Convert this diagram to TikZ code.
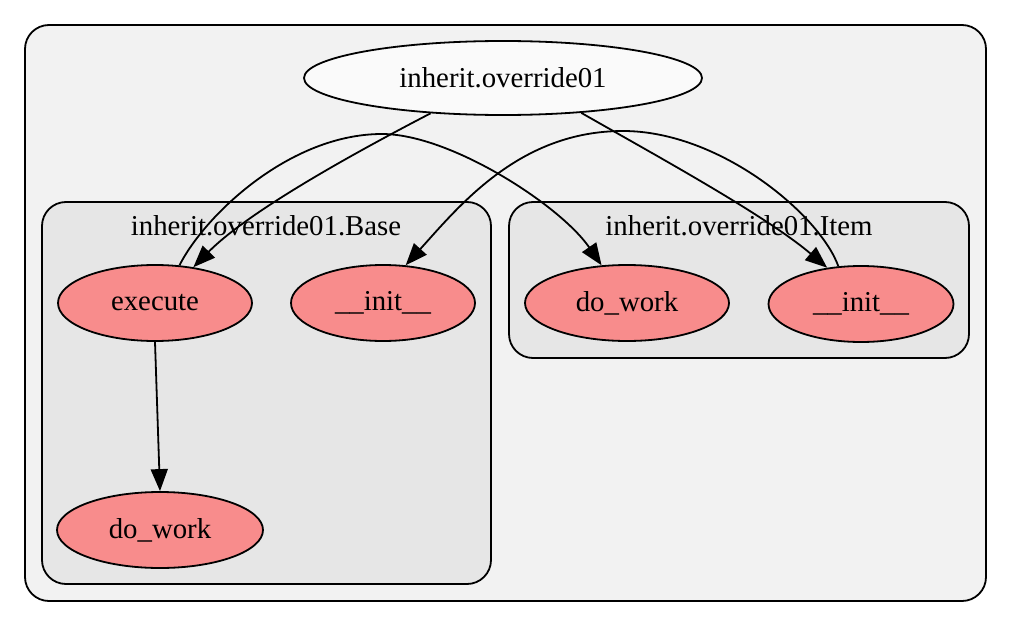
\documentclass[tikz,border=0pt]{standalone}
\usepackage{fontspec}
\setmainfont{Liberation Serif}
\usetikzlibrary{arrows.meta,shapes.geometric}
\definecolor{outerfill}{HTML}{F2F2F2}
\definecolor{clusterfill}{HTML}{E6E6E6}
\definecolor{topfill}{HTML}{FAFAFA}
\definecolor{funcfill}{HTML}{F88C8C}
\begin{document}
\begin{tikzpicture}[x=0.5pt,y=-0.5pt,
  font=\fontsize{14.4pt}{16pt}\selectfont,
  clusterbox/.style={draw=black, line width=0.9pt, rounded corners=12pt},
  topnode/.style={ellipse, draw=black, line width=0.9pt, fill=topfill, inner sep=0pt},
  funcnode/.style={ellipse, draw=black, line width=0.9pt, fill=funcfill, inner sep=0pt, minimum height=38pt},
  edge/.style={draw=black, line width=0.9pt, -{Triangle[length=11pt,width=8.5pt]}}
]
\useasboundingbox (0,0) rectangle (1011,626);
\fill[white] (0,0) rectangle (1011,626);
% clusters
\draw[clusterbox, fill=outerfill] (25,25) rectangle (986,601);
\draw[clusterbox, fill=clusterfill] (42,202) rectangle (491,584);
\draw[clusterbox, fill=clusterfill] (509,202) rectangle (969,358);
\node (blabel) at (266,226) {inherit.override01.Base};
\node (ilabel) at (739,226) {inherit.override01.Item};
% nodes
\node[topnode, minimum width=199pt, minimum height=37pt] (top) at (503,78) {inherit.override01};
\node[funcnode, minimum width=97pt] (execute) at (155,303) {execute};
\node[funcnode, minimum width=92pt] (binit) at (383,303) {\_\_init\_\_};
\node[funcnode, minimum width=102pt] (ido) at (627,303) {do\_work};
\node[funcnode, minimum width=92.5pt] (inot) at (861,304) {\_\_init\_\_};
\node[funcnode, minimum width=103pt] (bdo) at (160,530) {do\_work};
% edges
\draw[edge] (top.206) .. controls (360,150) and (250,210) .. (execute.43);
\draw[edge] (top.336) .. controls (655,155) and (765,215) .. (inot.133);
\draw[edge] (execute.57) .. controls (205,215) and (290,134) .. (382,134)
  .. controls (450,134) and (560,205) .. (ido.124);
\draw[edge] (inot.121) .. controls (820,215) and (720,131) .. (623,131)
  .. controls (520,131) and (460,205) .. (binit.59);
\draw[edge] (execute.south) -- (bdo.north);
\end{tikzpicture}
\end{document}
